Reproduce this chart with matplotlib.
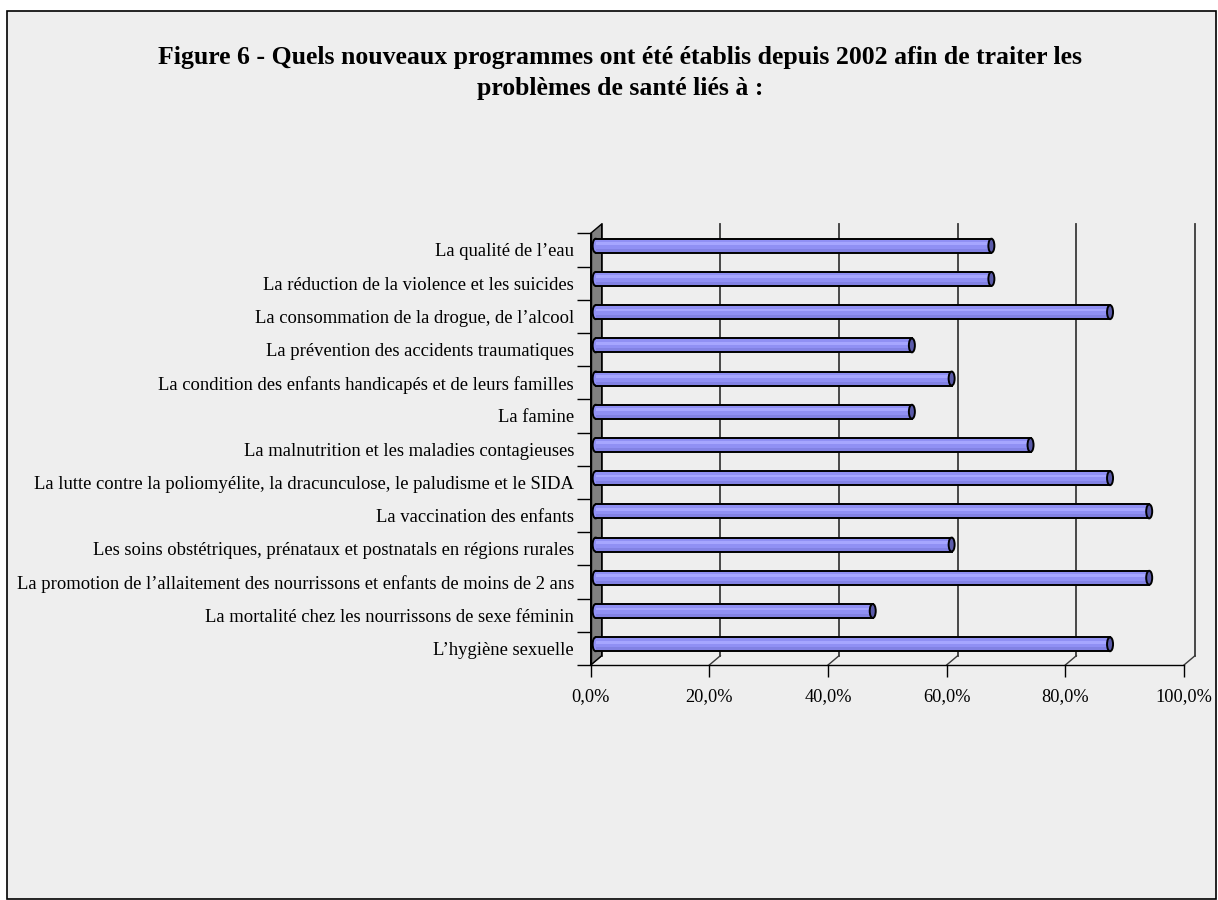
import matplotlib.pyplot as plt
from matplotlib.patches import Rectangle, Ellipse, Polygon
from matplotlib.ticker import FixedLocator, FuncFormatter

plt.rcParams['font.family'] = ['Liberation Serif', 'DejaVu Serif']

# Data (bottom to top, as Excel draws it)
categories = [
    "L\u2019hygiène sexuelle",
    "La mortalité chez les nourrissons de sexe féminin",
    "La promotion de l\u2019allaitement des nourrissons et enfants de moins de 2 ans",
    "Les soins obstétriques, prénataux et postnatals en régions rurales",
    "La vaccination des enfants",
    "La lutte contre la poliomyélite, la dracunculose, le paludisme et le SIDA",
    "La malnutrition et les maladies contagieuses",
    "La famine",
    "La condition des enfants handicapés et de leurs familles",
    "La prévention des accidents traumatiques",
    "La consommation de la drogue, de l\u2019alcool",
    "La réduction de la violence et les suicides",
    "La qualité de l\u2019eau",
]
values = [86.7, 46.7, 93.3, 60.0, 93.3, 86.7, 73.3, 53.3, 60.0, 53.3, 86.7, 66.7, 66.7]
xticks = [0, 20, 40, 60, 80, 100]

title = ("Figure 6 - Quels nouveaux programmes ont été établis depuis 2002 afin de traiter les\n"
         "problèmes de santé liés à :")

W, H = 1218, 900
fig = plt.figure(figsize=(W / 100, H / 100), dpi=100)
fig.patch.set_facecolor('white')

# chart area frame
fig.patches.append(Rectangle((7 / W, 1 - 899 / H), (1216 - 7) / W, (899 - 11) / H,
                             transform=fig.transFigure, facecolor='#EEEEEE',
                             edgecolor='black', lw=1.2, zorder=-10))

fig.text(620 / W, 1 - 73 / H, title, ha='center', va='center', fontsize=18.5,
         fontweight='bold', linespacing=1.45)

# front plane of the 3D plot
left, right, top, bottom = 590.7, 1184.0, 233.3, 665.0
ax = fig.add_axes([left / W, 1 - bottom / H, (right - left) / W, (bottom - top) / H])
ax.set_facecolor('none')
n = len(categories)
ax.set_xlim(0, 100)
ax.set_ylim(-0.5, n - 0.5)

# depth of the 3D box in data units
px_x = (right - left) / 100.0
px_y = (bottom - top) / n
DX = 11.0 / px_x
DY = 9.3 / px_y

# back wall gridlines and floor diagonals
for x in xticks:
    ax.plot([x + DX, x + DX], [-0.5 + DY, n - 0.5 + DY], color='#3a3a3a', lw=1.3,
            zorder=1, clip_on=False)
    ax.plot([x, x + DX], [-0.5, -0.5 + DY], color='#3a3a3a', lw=1.0, zorder=1,
            clip_on=False)

# left wall
ax.add_patch(Polygon([(0, -0.5), (0, n - 0.5), (DX, n - 0.5 + DY), (DX, -0.5 + DY)],
                     closed=True, facecolor='#808080', edgecolor='black', lw=1.0,
                     zorder=2, clip_on=False))

# cylinders
f = 0.45
bx, by = f * DX, f * DY
bh = 14.0 / px_y
cap_w = 6.0 / px_x
for i, v in enumerate(values):
    c = i + by
    ax.add_patch(Ellipse((bx, c), cap_w, bh, facecolor='#9090F4', edgecolor='black',
                         lw=1.4, zorder=3, clip_on=False))
    ax.add_patch(Rectangle((bx, c - bh / 2), v, bh, facecolor='#9090F4',
                           edgecolor='none', zorder=4, clip_on=False))
    ax.add_patch(Rectangle((bx, c - bh / 2), v, bh * 0.28, facecolor='#8282E4',
                           edgecolor='none', zorder=4, clip_on=False))
    ax.add_patch(Rectangle((bx, c + bh * 0.05), v, bh * 0.2, facecolor='#A6A6FF',
                           edgecolor='none', zorder=4, clip_on=False))
    ax.plot([bx, bx + v], [c + bh / 2, c + bh / 2], color='black', lw=1.4, zorder=5,
            clip_on=False)
    ax.plot([bx, bx + v], [c - bh / 2, c - bh / 2], color='black', lw=1.4, zorder=5,
            clip_on=False)
    ax.add_patch(Ellipse((bx + v, c), cap_w, bh, facecolor='#5A5AAA', edgecolor='black',
                         lw=1.4, zorder=6, clip_on=False))

# axes
for s in ['top', 'right']:
    ax.spines[s].set_visible(False)
ax.spines['left'].set_linewidth(1.0)
ax.spines['bottom'].set_linewidth(1.0)
ax.spines['left'].set_zorder(2.5)

ax.xaxis.set_major_locator(FixedLocator(xticks))
ax.xaxis.set_major_formatter(FuncFormatter(lambda x, p: f"{x:.1f}%".replace('.', ',')))
ax.tick_params(axis='x', direction='out', length=8.6, width=1.0, pad=8,
               labelsize=13.2, colors='black')

ax.yaxis.set_major_locator(FixedLocator([k - 0.5 for k in range(n + 1)]))
ax.yaxis.set_major_formatter(FuncFormatter(lambda y, p: ''))
ax.yaxis.set_minor_locator(FixedLocator(list(range(n))))
ax.set_yticklabels(categories, minor=True)
ax.tick_params(axis='y', which='major', direction='out', length=10, width=1.0)
ax.tick_params(axis='y', which='minor', length=0, pad=12, labelsize=13.4)

fig.savefig('out.png', dpi=100, facecolor=fig.get_facecolor())
